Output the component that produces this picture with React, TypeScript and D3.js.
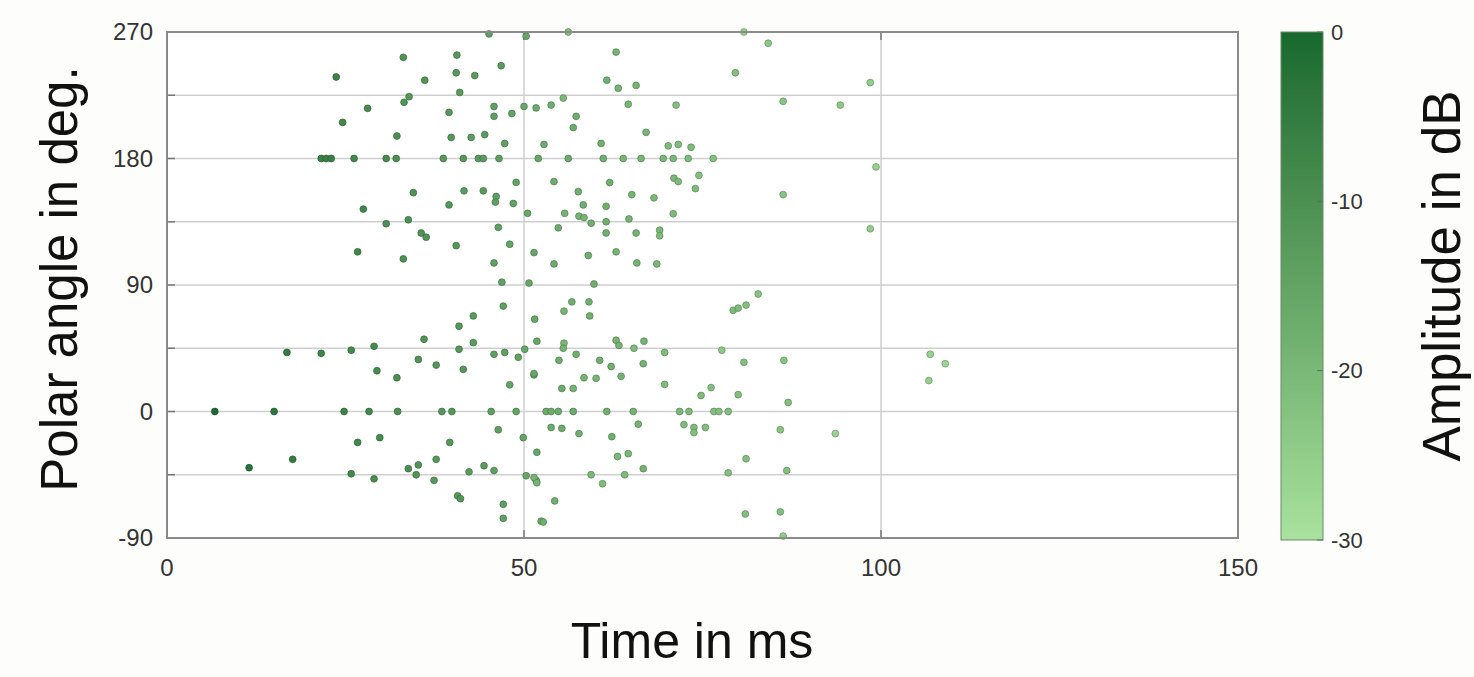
import React from "react";
import * as d3 from "d3";

// [time in ms, polar angle in deg, amplitude in dB]
const earlyPoints: [number, number, number][] = [
  [45.1, 268.6, -14], [50.3, 267, -16], [33.1, 252, -11], [40.6, 253.6, -12],
  [46.8, 246, -13], [23.7, 238, -7], [36.1, 235.7, -11], [40.5, 241, -12],
  [43.1, 239, -13], [41, 227, -13], [33.2, 220, -11], [33.9, 224, -12],
  [28.1, 215.7, -9], [24.6, 205.7, -8], [39.5, 212.8, -12], [45.8, 217, -14],
  [45.8, 210, -14], [48.3, 212, -15], [50, 217, -16], [51.7, 216, -17],
  [32.2, 196, -10], [39.8, 195, -12], [42.6, 195, -13], [44.5, 197, -13],
  [47.3, 190.7, -14],
  [21.6, 180, -6], [22.3, 180, -6], [23, 180, -6], [26.2, 180, -8], [30.7, 180, -9],
  [32.1, 180, -10], [38.7, 180, -12], [41.5, 180, -12], [43.6, 180, -13],
  [44.3, 180, -13], [46.5, 180, -14], [52, 180, -16],
  [48.9, 163, -15], [41.6, 157, -13], [44.3, 157, -13], [34.5, 155.7, -11],
  [46.1, 153, -14], [46, 149, -14], [48.5, 148, -15], [50.5, 141, -16],
  [27.5, 144, -8], [39.5, 147, -12], [30.7, 133.6, -10], [33.8, 136.4, -10],
  [35.6, 127, -11], [36.3, 124, -11], [46.4, 131, -14], [40.5, 118, -12],
  [48, 119, -15], [51.4, 113, -16], [26.7, 113.6, -8], [33.1, 108.6, -10],
  [45.8, 105.7, -14], [46.9, 92, -14], [50.7, 91.4, -16],
  [47.1, 75, -14], [42.9, 68, -13], [40.9, 60.7, -12], [51.5, 65.7, -16],
  [51.8, 50, -16], [36, 51.4, -11], [42.9, 49, -13], [29, 46.4, -9],
  [16.8, 42, -5], [21.6, 41.4, -7], [25.8, 43.6, -8], [40.9, 44.3, -12],
  [45.8, 40.7, -14], [47.3, 42, -14], [49.2, 38.6, -15], [50.1, 44.3, -16],
  [29.4, 29, -9], [32.2, 24, -10], [35.2, 37, -11], [37.7, 33, -12],
  [41.5, 30, -12], [48, 19, -15], [51.4, 26, -16],
  [6.7, 0, -1], [15, 0, -4], [24.8, 0, -7], [28.3, 0, -8], [32.3, 0, -10],
  [38.5, 0, -12], [39.9, 0, -12], [45.4, 0, -14], [48.9, 0, -15],
  [46.4, -13, -14], [49.9, -18.6, -15], [51.8, -29, -16], [26.7, -22, -8],
  [29.8, -18.6, -9], [39.6, -22, -12], [17.6, -34, -5], [11.5, -40, -3],
  [37.7, -34, -12], [33.8, -40.7, -10], [35.2, -38, -11], [34.9, -45, -11],
  [25.8, -44.3, -8], [29, -47.9, -9], [37.4, -49, -12], [42.3, -42.9, -13],
  [44.4, -38.6, -13], [45.8, -42, -14], [50.3, -45.7, -16], [51.7, -49, -16],
  [40.7, -60, -12], [41.1, -62, -12], [47.1, -66, -14], [47.1, -76, -14],
  [52.4, -78, -17],
];

const latePoints: [number, number, number][] = [
  [56.2, 270, -22], [80.8, 270, -26], [84.2, 262, -24], [62.9, 255.7, -19],
  [61.6, 235.7, -18], [63.2, 230, -19], [65.7, 232, -19], [79.6, 241, -22],
  [98.5, 234, -25], [53.8, 218, -17], [55.5, 223, -20], [64.6, 218.6, -20],
  [71.3, 218, -22], [86.3, 220.7, -23], [94.3, 218, -24], [57.3, 210, -18],
  [56.9, 202, -17], [67.1, 198.6, -19], [52.8, 190, -17], [60.8, 190.7, -18],
  [70.2, 189, -21], [71.6, 190, -21], [73.4, 188, -21],
  [56.2, 180, -17], [61.1, 180, -18], [63.9, 180, -19], [66.4, 180, -19],
  [69.5, 180, -20], [70.9, 180, -20], [73, 180, -21], [76.5, 180, -22],
  [99.3, 174, -26], [54.2, 163.6, -17], [62, 162.9, -18], [71, 166, -20],
  [71.6, 163.6, -21], [74.5, 168, -22], [74, 158.6, -21], [57.6, 156.4, -18],
  [65.1, 154.3, -19], [68.2, 152, -20], [86.3, 154.3, -23], [58.3, 147, -18],
  [61.5, 146, -18], [55.7, 141, -19], [57.7, 139, -19], [58.4, 138, -19],
  [59.4, 134, -18], [61.5, 135, -18], [64.7, 137, -19], [70.9, 140.7, -21],
  [54.8, 130.7, -17], [61.5, 127, -18], [65.7, 127, -19], [69, 129, -20],
  [69, 125, -21], [98.5, 130, -25], [59, 111, -18], [62.9, 113.6, -19],
  [54.2, 105, -17], [65.8, 105.7, -19], [68.6, 105, -20], [59.8, 90.7, -18],
  [82.8, 83.6, -23], [56.7, 78, -18], [59.1, 78, -18], [55.6, 71.4, -19],
  [59.2, 68, -18], [79.3, 72, -21], [80, 73.6, -21], [81.1, 75.7, -22],
  [55.6, 48.6, -20], [62.9, 50.7, -19], [63.3, 47, -19], [66.8, 50, -19],
  [55.5, 45, -19], [57.3, 40.7, -18], [65.4, 45, -21], [69.7, 42, -21],
  [77.7, 43.6, -24], [80.8, 35, -22], [86.4, 36.4, -23], [54.9, 36.4, -17],
  [60.6, 36.4, -18], [62.2, 32, -18], [66.7, 34, -19], [51.4, 27, -16],
  [58.4, 24, -19], [60.1, 23.6, -19], [63.6, 25, -19], [55.3, 16.4, -17],
  [56.9, 16.4, -19], [69.7, 19.3, -21], [74.8, 11.4, -21], [76.2, 17, -22],
  [80, 12, -22], [87, 6.4, -22], [106.9, 40.7, -26], [109, 34, -27],
  [106.7, 22, -26],
  [53.1, 0, -17], [53.8, 0, -17], [54.8, 0, -17], [56.9, 0, -17], [61.6, 0, -18],
  [65.3, 0, -19], [71.8, 0, -20], [73.1, 0, -21], [76.6, 0, -22], [77.3, 0, -22],
  [78.6, 0, -22],
  [53.8, -11.4, -17], [55.3, -12, -17], [57.7, -15.7, -18], [66, -9, -19],
  [62.3, -17.9, -18], [72.4, -9.3, -21], [73.8, -11.4, -21], [73.8, -15, -22],
  [75.4, -11.4, -22], [85.9, -13, -23], [93.6, -15.7, -26], [63.1, -32, -20],
  [64.6, -30, -20], [81.1, -33.6, -22], [51.4, -47, -19], [51.8, -50.7, -19],
  [59.4, -45, -20], [61, -51.4, -21], [64.1, -45, -21], [66.7, -40.7, -19],
  [78.6, -43.6, -22], [86.8, -42, -22], [54.3, -63.6, -18], [52.7, -78.6, -18],
  [81, -72.9, -22], [85.9, -71.4, -22], [86.3, -88.6, -25],
];

const xTicks = [0, 50, 100, 150];
const yTicks = [-90, 0, 90, 180, 270];
const yGrid = [-45, 0, 45, 90, 135, 180, 225];
const cbTicks = [0, -10, -20, -30];

const W = 1474;
const H = 677;
const font = "'Liberation Sans', Arial, Helvetica, sans-serif";

export default function App() {
  const x = d3.scaleLinear().domain([0, 150]).range([167, 1238]);
  const y = d3.scaleLinear().domain([-90, 270]).range([538, 32]);
  const cbY = d3.scaleLinear().domain([0, -30]).range([32, 540]);
  const color = d3
    .scaleLinear<string>()
    .domain([0, -30])
    .range(["#17692f", "#a9e29e"])
    .interpolate(d3.interpolateLab);

  const points = [...earlyPoints, ...latePoints];
  const stops = d3.range(0, 11).map((i) => -i * 3);

  return (
    <svg
      width={W}
      height={H}
      style={{ position: "absolute", left: 0, top: 0, background: "#fdfdfb" }}
      fontFamily={font}
    >
      <defs>
        <linearGradient id="cb" x1="0" y1="0" x2="0" y2="1">
          {stops.map((s, i) => (
            <stop key={i} offset={i / (stops.length - 1)} stopColor={color(s)} />
          ))}
        </linearGradient>
      </defs>

      {/* plot background + grid */}
      <rect x={x(0)} y={y(270)} width={x(150) - x(0)} height={y(-90) - y(270)} fill="#ffffff" />
      {yGrid.map((g) => (
        <line key={g} x1={x(0)} x2={x(150)} y1={y(g)} y2={y(g)} stroke="#cfcfcf" strokeWidth={1.5} />
      ))}
      {[50, 100].map((g) => (
        <line key={g} x1={x(g)} x2={x(g)} y1={y(270)} y2={y(-90)} stroke="#cfcfcf" strokeWidth={1.5} />
      ))}

      {/* ticks on frame */}
      {[...yGrid, -90, 270].map((g) => (
        <line key={"yt" + g} x1={x(0)} x2={x(0) + 8} y1={y(g)} y2={y(g)} stroke="#777" strokeWidth={1.5} />
      ))}
      {xTicks.map((g) => (
        <g key={"xt" + g}>
          <line x1={x(g)} x2={x(g)} y1={y(-90)} y2={y(-90) - 8} stroke="#777" strokeWidth={1.5} />
          <line x1={x(g)} x2={x(g)} y1={y(270)} y2={y(270) + 8} stroke="#777" strokeWidth={1.5} />
        </g>
      ))}

      {/* points */}
      {points.map(([t, a, db], i) => (
        <circle
          key={i}
          cx={x(t)}
          cy={y(a)}
          r={3.4}
          fill={color(db)}
          stroke={d3.color(color(db))!.darker(1).formatHex()}
          strokeWidth={1}
          strokeOpacity={0.7}
        />
      ))}

      {/* frame */}
      <rect
        x={x(0)}
        y={y(270)}
        width={x(150) - x(0)}
        height={y(-90) - y(270)}
        fill="none"
        stroke="#8a8a8a"
        strokeWidth={2}
      />

      {/* y tick labels */}
      {yTicks.map((v) => (
        <text key={v} x={153} y={y(v)} dy="0.35em" textAnchor="end" fontSize={24} fill="#333">
          {v}
        </text>
      ))}
      {/* x tick labels */}
      {xTicks.map((v) => (
        <text key={v} x={x(v)} y={576} textAnchor="middle" fontSize={24} fill="#333">
          {v}
        </text>
      ))}

      <text x={692} y={658} textAnchor="middle" fontSize={50} fill="#111">
        Time in ms
      </text>
      <text transform="translate(77,279) rotate(-90)" textAnchor="middle" fontSize={51} fill="#111">
        Polar angle in deg.
      </text>

      {/* colorbar */}
      <rect x={1281} y={cbY(0)} width={42} height={cbY(-30) - cbY(0)} fill="url(#cb)" stroke="#6a8a6a" strokeWidth={1} />
      {cbTicks.map((v) => (
        <g key={v}>
          <line x1={1323} x2={1317} y1={cbY(v)} y2={cbY(v)} stroke="#557755" strokeWidth={1} />
          <text x={1331} y={cbY(v)} dy="0.35em" fontSize={22} fill="#333">
            {v}
          </text>
        </g>
      ))}
      <text transform="translate(1460,276) rotate(-90)" textAnchor="middle" fontSize={53} fill="#111">
        Amplitude in dB
      </text>
    </svg>
  );
}
